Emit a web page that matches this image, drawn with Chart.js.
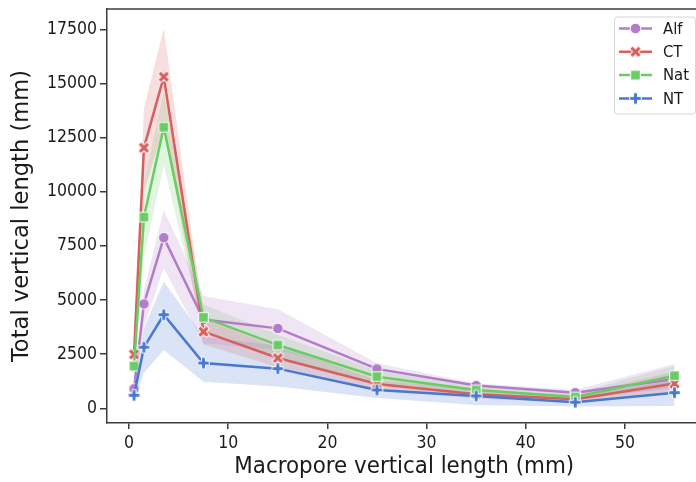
<!DOCTYPE html>
<html>
<head>
<meta charset="utf-8">
<script src="https://cdn.jsdelivr.net/npm/chart.js@4.4.1/dist/chart.umd.min.js"></script>
<style>
  html, body { margin: 0; padding: 0; background: #fff; overflow: hidden; }
  #wrap { width: 696px; height: 482px; overflow: hidden; }
</style>
</head>
<body>
<div id="wrap"><canvas id="chart" width="710" height="482"></canvas></div>
<script>
// x positions (mm)
const poreLength = [0.5, 1.5, 3.5, 7.5, 15, 25, 35, 45, 55]

const seriesNames = ['Alf', 'CT', 'Nat', 'NT']

// means
const alfMean = [900, 4820, 7880, 4100, 3690, 1820, 1050, 720, 1350]
const ctMean  = [2490, 12030, 15310, 3540, 2320, 1120, 650, 415, 1140]
const natMean = [1950, 8830, 12980, 4200, 2920, 1460, 845, 520, 1505]
const ntMean  = [600, 2820, 4320, 2090, 1830, 845, 570, 280, 720]

// confidence band, lower / upper
const alfLow  = [600, 3770, 6470, 3000, 2700, 1450, 800, 500, 900]
const alfHigh = [1300, 5460, 9160, 5190, 4570, 2080, 1150, 850, 2050]
const ctLow   = [1800, 10000, 13000, 2950, 1900, 850, 450, 250, 700]
const ctHigh  = [3300, 13850, 17550, 4150, 2800, 1400, 850, 600, 1700]
const natLow  = [1500, 7000, 11230, 3500, 2400, 1150, 650, 350, 1000]
const natHigh = [2500, 10500, 14600, 4800, 3400, 1750, 1000, 700, 1950]
const ntLow   = [350, 1630, 2690, 1230, 1000, 470, 150, 80, 100]
const ntHigh  = [850, 3700, 5850, 3300, 2900, 1300, 900, 550, 1300]

const xTicks = [0, 10, 20, 30, 40, 50]
const yTicks = [0, 2500, 5000, 7500, 10000, 12500, 15000, 17500]

const colors = ['#b27cc6', '#d65f5f', '#6acc64', '#4878d0']
const bands = ['rgba(178,124,198,0.2)', 'rgba(214,95,95,0.2)', 'rgba(106,204,100,0.2)', 'rgba(72,120,208,0.2)']
const shapes = ['circle', 'x', 'square', 'plus']

const means = [alfMean, ctMean, natMean, ntMean]
const lows = [alfLow, ctLow, natLow, ntLow]
const highs = [alfHigh, ctHigh, natHigh, ntHigh]

const narrow = '"DejaVu Sans Condensed", "DejaVu Sans"'
const wide = '"DejaVu Sans"'

function toPoints(vals) {
  return poreLength.map(function (x, i) { return { x: x, y: vals[i] } })
}

// marker images like seaborn's o, X, s, P with white edge
function makeMarker(shape, color) {
  var c = document.createElement('canvas')
  c.width = 15
  c.height = 15
  var g = c.getContext('2d')
  g.translate(7.5, 7.5)
  g.beginPath()
  if (shape === 'circle') {
    g.arc(0, 0, 5.3, 0, Math.PI * 2)
  } else if (shape === 'square') {
    g.rect(-4.8, -4.8, 9.6, 9.6)
  } else {
    var s = shape === 'plus' ? 11.5 : 12.5
    var a = 1 / 6
    var pts = [[-a,-0.5],[a,-0.5],[a,-a],[0.5,-a],[0.5,a],[a,a],[a,0.5],[-a,0.5],[-a,a],[-0.5,a],[-0.5,-a],[-a,-a]]
    if (shape === 'x') g.rotate(Math.PI / 4)
    pts.forEach(function (p, i) {
      if (i === 0) g.moveTo(p[0] * s, p[1] * s)
      else g.lineTo(p[0] * s, p[1] * s)
    })
    g.closePath()
  }
  g.fillStyle = color
  g.fill()
  g.lineWidth = 1
  g.strokeStyle = '#ffffff'
  g.stroke()
  return c
}

const markers = shapes.map(function (s, i) { return makeMarker(s, colors[i]) })

var datasets = []
// lines first (drawn on top thanks to order)
for (var i = 0; i < seriesNames.length; i++) {
  datasets.push({
    label: seriesNames[i],
    data: toPoints(means[i]),
    borderColor: colors[i],
    backgroundColor: colors[i],
    borderWidth: 2.5,
    pointStyle: markers[i],
    pointRadius: 6,
    tension: 0,
    fill: false,
    order: 4 - i,
  })
}
for (var i = 0; i < seriesNames.length; i++) {
  var lowIndex = datasets.length
  datasets.push({
    label: seriesNames[i] + ' low',
    data: toPoints(lows[i]),
    borderWidth: 0,
    borderColor: 'rgba(0,0,0,0)',
    pointRadius: 0,
    fill: false,
    order: 20,
  })
  datasets.push({
    label: seriesNames[i] + ' high',
    data: toPoints(highs[i]),
    borderWidth: 0,
    borderColor: 'rgba(0,0,0,0)',
    backgroundColor: bands[i],
    pointRadius: 0,
    fill: { target: lowIndex },
    order: 20,
  })
}

// top spine + legend box
const framePlugin = {
  id: 'frame',
  afterDraw: function (chart) {
    var ctx = chart.ctx
    var area = chart.chartArea
    ctx.save()
    ctx.strokeStyle = '#3c3c3c'
    ctx.lineWidth = 1.5
    ctx.beginPath()
    ctx.moveTo(area.left, area.top)
    ctx.lineTo(area.right, area.top)
    ctx.stroke()

    // legend
    var bx = 614, by = 16.5, bw = 81, bh = 97
    ctx.fillStyle = 'rgba(255,255,255,0.85)'
    ctx.strokeStyle = '#d6d6d6'
    ctx.lineWidth = 1
    ctx.beginPath()
    ctx.roundRect(bx + 0.5, by + 0.5, bw, bh, 3)
    ctx.fill()
    ctx.stroke()
    ctx.font = '16.5px ' + narrow
    ctx.textBaseline = 'middle'
    for (var i = 0; i < seriesNames.length; i++) {
      var ry = 28.5 + i * 23.3
      ctx.strokeStyle = colors[i]
      ctx.lineWidth = 2.5
      ctx.beginPath()
      ctx.moveTo(619, ry)
      ctx.lineTo(652, ry)
      ctx.stroke()
      ctx.drawImage(markers[i], 635.5 - 7.5, ry - 7.5)
      ctx.fillStyle = '#1a1a1a'
      ctx.fillText(seriesNames[i], 663, ry + 1)
    }
    ctx.restore()
  }
}

function fixedTicks(list) {
  return function (scale) {
    scale.ticks = list.map(function (v) { return { value: v } })
  }
}

function plainLabel(value) { return String(value) }

new Chart(document.getElementById('chart'), {
  type: 'line',
  data: { datasets: datasets },
  plugins: [framePlugin],
  options: {
    responsive: false,
    animation: false,
    layout: { padding: { top: 9, right: 7, left: 0, bottom: 0 } },
    plugins: {
      legend: { display: false },
      tooltip: { enabled: false },
    },
    scales: {
      x: {
        type: 'linear',
        min: -2.225,
        max: 57.725,
        afterFit: function (scale) {
          scale.height = 59
          scale.paddingLeft = 0
          scale.paddingRight = 0
        },
        afterBuildTicks: fixedTicks(xTicks),
        ticks: { callback: plainLabel, color: '#1a1a1a', padding: 4, maxRotation: 0, autoSkip: false, font: { family: narrow, size: 17.5 } },
        grid: { drawOnChartArea: false, drawTicks: true, tickLength: 6, color: '#3c3c3c', lineWidth: 1.5 },
        border: { color: '#3c3c3c', width: 1.5 },
        title: {
          display: true,
          text: 'Macropore vertical length (mm)',
          color: '#1a1a1a',
          font: { family: narrow, size: 23.8 },
          padding: { top: 0, bottom: 1 },
        },
      },
      y: {
        min: -680,
        max: 18440,
        afterFit: function (scale) {
          scale.width = 107
          scale.paddingTop = 0
          scale.paddingBottom = 0
        },
        afterBuildTicks: fixedTicks(yTicks),
        ticks: { callback: plainLabel, color: '#1a1a1a', padding: 3, autoSkip: false, font: { family: narrow, size: 17.5 } },
        grid: { drawOnChartArea: false, drawTicks: true, tickLength: 7, color: '#3c3c3c', lineWidth: 1.5 },
        border: { color: '#3c3c3c', width: 1.5 },
        title: {
          display: true,
          text: 'Total vertical length (mm)',
          color: '#1a1a1a',
          font: { family: wide, size: 22.6 },
          padding: { top: 8.4, bottom: 0 },
        },
      },
    },
  },
})
</script>
</body>
</html>
